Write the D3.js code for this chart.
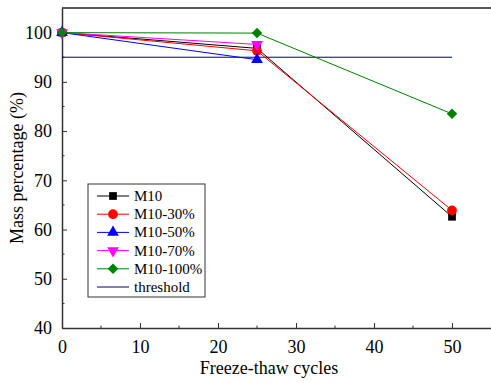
<!DOCTYPE html>
<html>
<head>
<meta charset="utf-8">
<script src="https://cdn.jsdelivr.net/npm/d3@7"></script>
</head>
<body style="margin:0">
<svg width="491" height="383"></svg>
<script>
const svg = d3.select('svg');
const width  = +svg.attr('width');
const height = +svg.attr('height');

// data
const cycles = [0, 25, 50];
const m10     = [100, 96.8, 62.6];
const m10_30  = [100, 96.3, 63.9];
const m10_50  = [100, 94.5];
const m10_70  = [100, 97.6];
const m10_100 = [100, 99.9, 83.5];
const threshold = 95;
const thresholdRange = [0, 50];
const xTicks = [0, 10, 20, 30, 40, 50];
const yTicks = [40, 50, 60, 70, 80, 90, 100];

const series = [
  { name: 'M10',      values: m10,     color: '#000000', symbol: d3.symbolSquare,   size: 60 },
  { name: 'M10-30%',  values: m10_30,  color: '#ff0000', symbol: d3.symbolCircle,   size: 75 },
  { name: 'M10-50%',  values: m10_50,  color: '#0000ff', symbol: d3.symbolTriangle, size: 60 },
  { name: 'M10-70%',  values: m10_70,  color: '#ff00ff', symbol: d3.symbolTriangle, size: 60, rot: 180 },
  { name: 'M10-100%', values: m10_100, color: '#008000', symbol: d3.symbolSquare,   size: 55, rot: 45 }
];

const font = px => `${px}px 'Liberation Serif'`;

const margin = { top: 8, bottom: 55, left: 62, right: 0 };
const innerWidth = width - margin.left - margin.right;
const innerHeight = height - margin.top - margin.bottom;

const g = svg.append('g')
  .attr('transform', `translate(${margin.left},${margin.top})`);

const xScale = d3.scaleLinear().domain([0, 55]).range([0, innerWidth]);
const yScale = d3.scaleLinear().domain([40, 105]).range([innerHeight, 0]);

// top frame line
g.append('line')
  .attr('x1', 0).attr('x2', innerWidth)
  .attr('y1', 0).attr('y2', 0)
  .attr('stroke', '#222').attr('stroke-width', 1.5);

// minor ticks
const minorX = d3.range(5, 55, 10);
const minorY = d3.range(45, 105, 10);
g.selectAll('.mx').data(minorX).enter().append('line')
  .attr('x1', d => xScale(d)).attr('x2', d => xScale(d))
  .attr('y1', innerHeight).attr('y2', innerHeight - 2.5)
  .attr('stroke', '#333');
g.selectAll('.my').data(minorY).enter().append('line')
  .attr('y1', d => yScale(d)).attr('y2', d => yScale(d))
  .attr('x1', 0).attr('x2', 2.5)
  .attr('stroke', '#333');

const xAxis = d3.axisBottom(xScale).tickValues(xTicks).tickSizeInner(-5).tickSizeOuter(0).tickPadding(12);
const xAxisG = g.append('g').attr('transform', `translate(0,${innerHeight})`).call(xAxis);
const yAxis = d3.axisLeft(yScale).tickValues(yTicks).tickSizeInner(-5).tickSizeOuter(0).tickPadding(10);
const yAxisG = g.append('g').call(yAxis);

[xAxisG, yAxisG].forEach(a => {
  a.attr('font-family', null).attr('font-size', null);
  a.selectAll('.domain').attr('stroke', '#333').attr('stroke-width', 1.5);
  a.selectAll('.tick line').attr('stroke', '#333');
  a.selectAll('text').style('font', font(18)).attr('fill', '#000');
});

// threshold line
g.append('line')
  .attr('x1', xScale(thresholdRange[0])).attr('x2', xScale(thresholdRange[1]))
  .attr('y1', yScale(threshold)).attr('y2', yScale(threshold))
  .attr('stroke', '#000080').attr('stroke-width', 1);

const line = d3.line()
  .x((d, i) => xScale(cycles[i]))
  .y(d => yScale(d));

series.forEach(s => {
  g.append('path')
    .attr('d', line(s.values))
    .attr('fill', 'none')
    .attr('stroke', s.color)
    .attr('stroke-width', 1);
});

series.forEach(s => {
  const sym = d3.symbol().type(s.symbol).size(s.size);
  g.selectAll(null).data(s.values).enter().append('path')
    .attr('d', sym)
    .attr('fill', s.color)
    .attr('transform', (d, i) => `translate(${xScale(cycles[i])},${yScale(d)})${s.rot ? ` rotate(${s.rot})` : ''}`);
});

// axis titles
svg.append('text')
  .attr('text-anchor', 'middle')
  .style('font', font(18))
  .attr('x', 269).attr('y', 374)
  .text('Freeze-thaw cycles');

svg.append('text')
  .attr('text-anchor', 'middle')
  .style('font', font(18))
  .attr('transform', 'translate(23,168) rotate(-90)')
  .text('Mass percentage (%)');

// legend
const legend = svg.append('g').attr('transform', 'translate(88,184)');
legend.append('rect')
  .attr('width', 117).attr('height', 113)
  .attr('fill', '#fff').attr('stroke', '#333').attr('stroke-width', 1);

const legendItems = series.concat([{ name: 'threshold', color: '#000080' }]);
legendItems.forEach((s, i) => {
  const y = 12 + i * 18.2;
  legend.append('line')
    .attr('x1', 9).attr('x2', 41).attr('y1', y).attr('y2', y)
    .attr('stroke', s.color).attr('stroke-width', 1);
  if (s.symbol) {
    legend.append('path')
      .attr('d', d3.symbol().type(s.symbol).size(s.size)())
      .attr('fill', s.color)
      .attr('transform', `translate(25,${y})${s.rot ? ` rotate(${s.rot})` : ''}`);
  }
  legend.append('text')
    .style('font', font(15))
    .attr('x', 46).attr('y', y + 5)
    .text(s.name);
});
</script>
</body>
</html>
